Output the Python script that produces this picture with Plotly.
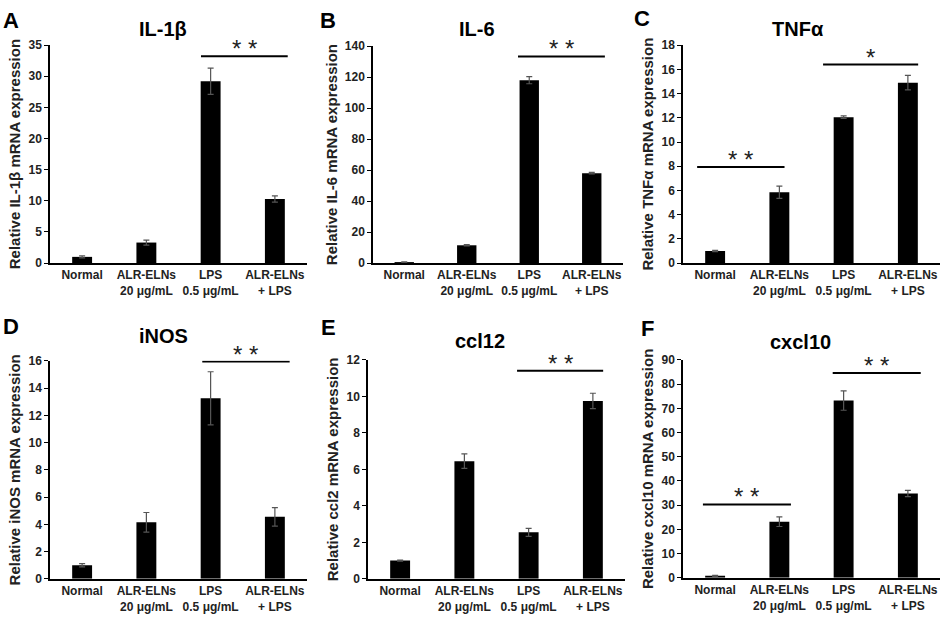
import plotly.graph_objects as go

W, H = 941, 622

groups = ["Normal", "ALR-ELNs<br>20 μg/mL", "LPS<br>0.5 μg/mL", "ALR-ELNs<br>+ LPS"]

# values (mean, error)
il1b = [1.0, 3.3, 29.2, 10.3]
il1b_err = [0.15, 0.4, 2.1, 0.5]
il6 = [0.5, 11.5, 118.0, 58.0]
il6_err = [0.3, 0.4, 2.3, 0.5]
tnfa = [1.0, 5.85, 12.05, 14.9]
tnfa_err = [0.05, 0.5, 0.1, 0.6]
inos = [1.0, 4.15, 13.25, 4.55]
inos_err = [0.12, 0.72, 1.95, 0.68]
ccl12 = [1.0, 6.45, 2.55, 9.75]
ccl12_err = [0.03, 0.4, 0.22, 0.42]
cxcl10 = [0.8, 23.2, 73.2, 34.8]
cxcl10_err = [0.2, 2.0, 4.0, 1.3]

# significance brackets: (from group, to group, height, label)
sig_il1b = [(1.85, 3.2, 33.2, "* *")]
sig_il6 = [(1.82, 3.21, 133.3, "* *")]
sig_tnfa = [(-0.28, 1.08, 7.93, "* *"), (1.68, 3.16, 16.4, "*")]
sig_inos = [(1.87, 3.23, 15.95, "* *")]
sig_ccl12 = [(1.82, 3.16, 11.4, "* *")]
sig_cxcl10 = [(-0.19, 1.18, 30.3, "* *"), (1.83, 3.2, 84.6, "* *")]

FONT = "Arial, Liberation Sans, sans-serif"

panels = [
    # letter, title, ytitle, y, err, ymax, dtick, x0,x1,ytop,ybot (px), letter pos, title pos, sig
    ("A", "IL-1β", "Relative IL-1β mRNA expression", il1b, il1b_err, 35, 5,
     50, 307, 39, 262, (11, 14), (163, 22), sig_il1b),
    ("B", "IL-6", "Relative IL-6 mRNA expression", il6, il6_err, 140, 20,
     373, 623, 40, 262, (328, 14), (477, 22), sig_il6),
    ("C", "TNFα", "Relative TNFα mRNA expression", tnfa, tnfa_err, 18, 2,
     683, 940, 39, 262, (642, 12), (798, 22), sig_tnfa),
    ("D", "iNOS", "Relative iNOS mRNA expression", inos, inos_err, 16, 2,
     50, 307, 362, 585, (11, 327), (163, 337), sig_inos),
    ("E", "ccl12", "Relative ccl2 mRNA expression", ccl12, ccl12_err, 12, 2,
     368, 625, 361, 585, (328, 328), (480, 342), sig_ccl12),
    ("F", "cxcl10", "Relative cxcl10 mRNA expression", cxcl10, cxcl10_err, 90, 10,
     683, 940, 361, 584, (647, 329), (800, 343), sig_cxcl10),
]

fig = go.Figure()
layout = {}
annotations = []
shapes = []

for i, (letter, title, ytitle, vals, errs, ymax, dtick, x0, x1, yt, yb,
        lpos, tpos, sigs) in enumerate(panels):
    n = "" if i == 0 else str(i + 1)
    fig.add_trace(go.Bar(
        x=list(range(len(groups))), y=vals, width=0.31,
        marker=dict(color="black", line=dict(width=0)),
        error_y=dict(type="data", array=errs, color="#555555", thickness=1.2, width=3),
        xaxis="x" + n, yaxis="y" + n, showlegend=False,
    ))
    layout["xaxis" + n] = dict(
        domain=[x0 / W, x1 / W], anchor="y" + n, range=[-0.5, 3.5],
        tickvals=list(range(len(groups))), ticktext=groups,
        showline=True, linecolor="black", linewidth=1.5, ticks="",
        showgrid=False, zeroline=False,
        tickfont=dict(family=FONT, size=12, color="#222", weight="bold"),
    )
    layout["yaxis" + n] = dict(
        domain=[1 - yb / H, 1 - yt / H], anchor="x" + n, range=[0, ymax],
        dtick=dtick, tick0=0, showline=True, linecolor="black", linewidth=1.5,
        ticks="outside", ticklen=4, tickcolor="black", showgrid=False, zeroline=False,
        tickfont=dict(family=FONT, size=12, color="#222", weight="bold"),
        title=dict(text=ytitle, standoff=4,
                   font=dict(family=FONT, size=15, color="#222", weight="bold")),
    )
    annotations.append(dict(
        text="<b>" + letter + "</b>", x=lpos[0] / W, y=1 - lpos[1] / H,
        xref="paper", yref="paper", showarrow=False,
        xanchor="center", yanchor="middle",
        font=dict(family=FONT, size=22, color="black"),
    ))
    annotations.append(dict(
        text="<b>" + title + "</b>", x=tpos[0] / W, y=1 - tpos[1] / H,
        xref="paper", yref="paper", showarrow=False,
        xanchor="center", yanchor="middle",
        font=dict(family=FONT, size=20, color="black"),
    ))
    for a, b, h, lab in sigs:
        shapes.append(dict(type="line", x0=a, x1=b, y0=h, y1=h,
                           xref="x" + n, yref="y" + n,
                           line=dict(color="black", width=2)))
        annotations.append(dict(
            text=lab, x=(a + b) / 2, y=h, xref="x" + n, yref="y" + n,
            xanchor="center", yanchor="bottom", showarrow=False, yshift=-8,
            font=dict(family=FONT, size=24, color="#222"),
        ))

fig.update_layout(
    width=W, height=H, autosize=False,
    margin=dict(l=0, r=0, t=0, b=0),
    paper_bgcolor="white", plot_bgcolor="white",
    annotations=annotations, shapes=shapes,
    **layout,
)

fig.write_html("out.html", config={"displayModeBar": False},
               post_script="document.body.style.margin='0';")
